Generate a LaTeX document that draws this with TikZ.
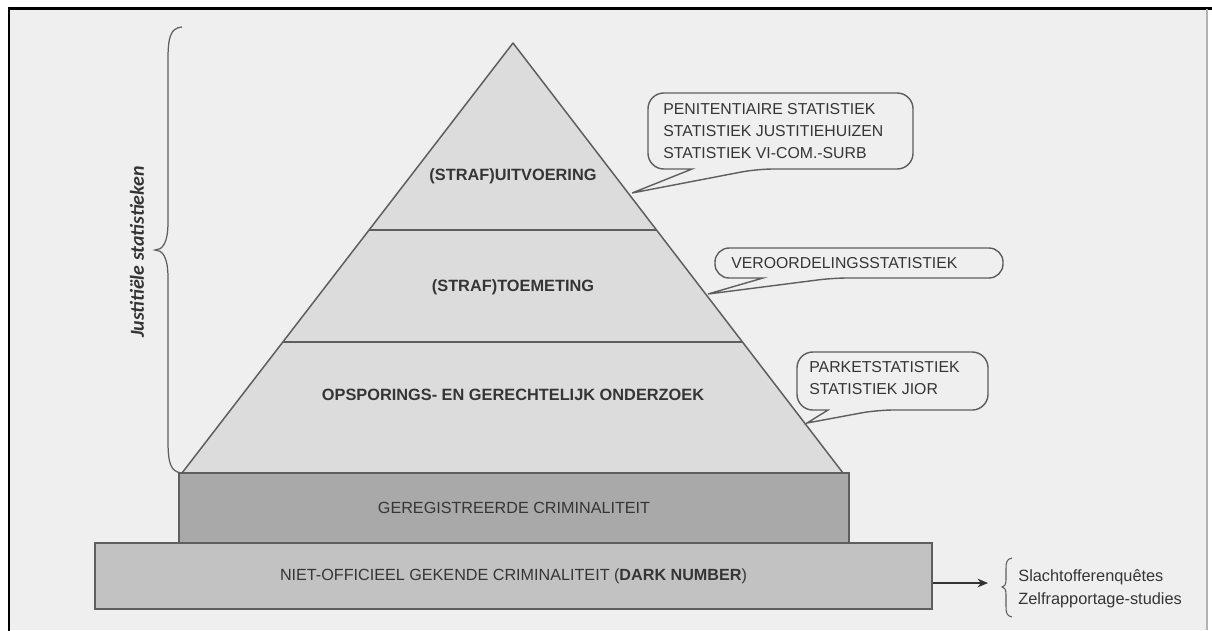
\documentclass[tikz,border=0pt]{standalone}
\usepackage{fontspec}
\setmainfont{Liberation Sans}
\newfontfamily\bracefont{Carlito}
\usetikzlibrary{calc,arrows.meta}
\definecolor{paper}{HTML}{EFEFEF}
\definecolor{pyrfill}{HTML}{DCDCDC}
\definecolor{regfill}{HTML}{A9A9A9}
\definecolor{darkfill}{HTML}{C2C2C2}
\definecolor{linegray}{HTML}{5E5E5E}
\definecolor{inkgray}{HTML}{353535}

\tikzset{
  layer/.style={font=\bfseries\fontsize{9.3}{11}\selectfont, text=inkgray},
  bubble/.style={draw=linegray, fill=paper, line width=0.8pt},
  bubbletext/.style={anchor=west, align=left, inner sep=0pt,
    font=\fontsize{9}{12.5}\selectfont, text=inkgray},
  band/.style={draw=linegray, line width=1pt, inner sep=0pt,
    font=\fontsize{9.2}{11}\selectfont, text=inkgray},
}

\begin{document}
\begin{tikzpicture}[x=0.02cm, y=-0.02cm]
  \useasboundingbox (0,0) rectangle (1212,630);
  % --- frame ---
  \fill[white] (0,0) rectangle (1212,630);
  \fill[paper] (10,9) rectangle (1207,630);
  \draw[black, line width=1.7pt] (9,632) -- (9,8) -- (1212,8);
  \draw[gray!60, line width=0.6pt] (1207,9) -- (1207,630);

  % --- pyramid ---
  \coordinate (apex) at (513,43);
  \coordinate (bl) at (182,473);
  \coordinate (br) at (843,473);
  \filldraw[fill=pyrfill, draw=linegray, line width=0.85pt, line join=round]
    (bl) -- (apex) -- (br) -- cycle;
  \draw[linegray, line width=0.85pt]
    ($(apex)!0.4349!(bl)$) -- ($(apex)!0.4349!(br)$);
  \draw[linegray, line width=0.85pt]
    ($(apex)!0.6953!(bl)$) -- ($(apex)!0.6953!(br)$);
  \node[layer] (uitv) at (513,176) {(STRAF)UITVOERING};
  \node[layer] (toem) at (513,287) {(STRAF)TOEMETING};
  \node[layer] (opsp) at (513,395) {OPSPORINGS- EN GERECHTELIJK ONDERZOEK};

  % --- bands ---
  \node[band, fill=regfill, minimum width=13.4cm, minimum height=1.4cm]
    (gereg) at (514,508) {GEREGISTREERDE CRIMINALITEIT};
  \node[band, fill=darkfill, minimum width=16.74cm, minimum height=1.32cm]
    (dark) at (513.5,576) {NIET-OFFICIEEL GEKENDE CRIMINALITEIT (\textbf{DARK NUMBER})};

  % --- left brace ---
  \draw[linegray, line width=0.7pt]
    (182,27) .. controls (170,28) and (168,38) .. (168,60) -- (168,222)
    .. controls (168,244) and (162,250) .. (155,250)
    .. controls (162,250) and (168,256) .. (168,278) -- (168,440)
    .. controls (168,462) and (170,472) .. (182,473);
  \node[rotate=90, text=inkgray, font=\bracefont\bfseries\itshape\fontsize{11.3}{13}\selectfont]
    (just) at (137,252) {Justitiële statistieken};

  % --- callouts ---
  \draw[bubble, rounded corners=9] (692,169) -- (648,169) -- (648,93) -- (913,93)
    -- (913,169) -- (757,169) [sharp corners] -- (632,193) -- cycle;
  \node[bubbletext] (pen) at (663,131)
    {PENITENTIAIRE STATISTIEK\\STATISTIEK JUSTITIEHUIZEN\\STATISTIEK VI-COM.-SURB};

  \draw[bubble, rounded corners=8] (763,278) -- (715,278) -- (715,248) -- (1003,248)
    -- (1003,278) -- (833,278) [sharp corners] -- (708,294) -- cycle;
  \node[bubbletext] (veroord) at (731,263) {VEROORDELINGSSTATISTIEK};

  \draw[bubble, rounded corners=9] (828,410) -- (797,410) -- (797,352) -- (988,352)
    -- (988,410) -- (877,410) [sharp corners] -- (807,423) -- cycle;
  \node[bubbletext] (parket) at (809,378)
    {PARKETSTATISTIEK\\STATISTIEK JIOR};

  % --- dark number sources ---
  \coordinate (arrowend) at (988,583);
  \draw[-{Stealth[length=6pt,width=5pt]}, black!80, line width=0.7pt]
    (dark.east |- arrowend) -- (arrowend);
  \draw[linegray, line width=0.6pt]
    (1012,558) .. controls (1007,559) and (1006,562) .. (1006,568) -- (1006,580)
    .. controls (1006,585) and (1004,587) .. (1002,587)
    .. controls (1004,587) and (1006,589) .. (1006,594) -- (1006,607)
    .. controls (1006,613) and (1007,616) .. (1012,617);
  \node[anchor=west, align=left, inner sep=0pt, text=inkgray,
    font=\fontsize{9.3}{13}\selectfont]
    (survey) at (1018,589) {Slachtofferenquêtes\\Zelfrapportage-studies};
\end{tikzpicture}
\end{document}
